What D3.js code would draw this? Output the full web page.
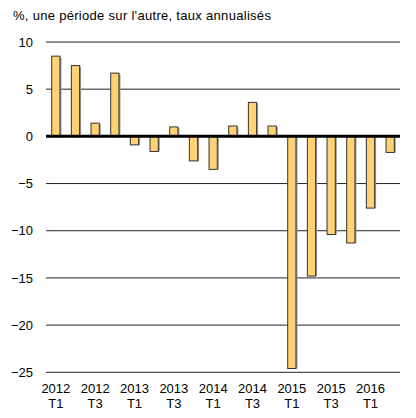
<!DOCTYPE html>
<html>
<head>
<meta charset="utf-8">
<script src="https://cdn.jsdelivr.net/npm/d3@7"></script>
<style>
  body { margin: 0; background: #fff; }
  text { font-family: "Liberation Sans", Arial, sans-serif; fill: #000; }
</style>
</head>
<body>
<div id="chart"></div>
<script>
// quarters, growth %, y ticks
var years = ["2012", "2012", "2012", "2012", "2013", "2013", "2013", "2013",
  "2014", "2014", "2014", "2014", "2015", "2015", "2015", "2015", "2016", "2016"];
var quarters = ["T1", "T2", "T3", "T4", "T1", "T2", "T3", "T4",
  "T1", "T2", "T3", "T4", "T1", "T2", "T3", "T4", "T1", "T2"];
var values = [8.5, 7.5, 1.4, 6.7, -0.9, -1.6, 1.0, -2.6,
  -3.5, 1.1, 3.6, 1.1, -24.6, -14.8, -10.4, -11.3, -7.6, -1.7];
var yTicks = [10, 5, 0, -5, -10, -15, -20, -25];

var svgWidth = 416, svgHeight = 418;
var margin = { top: 42, right: 16, bottom: 45, left: 46 };
var width = svgWidth - margin.left - margin.right;
var height = svgHeight - margin.top - margin.bottom - 0.7;

var svg = d3.select("#chart").append("svg")
  .attr("width", svgWidth)
  .attr("height", svgHeight);

svg.append("text")
  .attr("x", 13)
  .attr("y", 20)
  .attr("font-size", "13px")
  .attr("letter-spacing", "0.3px")
  .text("%, une période sur l'autre, taux annualisés");

var g = svg.append("g")
  .attr("transform", `translate(${margin.left}, ${margin.top})`);

var data = values.map(function (v, i) {
  return { key: years[i] + " " + quarters[i], year: years[i], q: quarters[i], value: v };
});

var x = d3.scaleBand()
  .domain(data.map(d => d.key))
  .range([0, width])
  .paddingInner(0.58)
  .paddingOuter(0.29);

var y = d3.scaleLinear()
  .domain([-25, 10])
  .range([height, 0]);

// gridlines
g.selectAll(".grid")
  .data(yTicks.filter(t => t !== 0))
  .enter()
  .append("line")
  .attr("x1", 0)
  .attr("x2", width)
  .attr("y1", d => y(d))
  .attr("y2", d => y(d))
  .attr("stroke", "#222")
  .attr("stroke-width", 1);

// y axis labels
var leftAxis = d3.axisLeft(y).tickValues(yTicks).tickSize(0).tickPadding(13);
var ya = g.append("g").call(leftAxis);
ya.select(".domain").remove();
ya.selectAll("text")
  .attr("font-size", "13px")
  .style("font-family", "'Liberation Sans', Arial, sans-serif")
  .attr("fill", "#000");

// bar shadows
g.selectAll(".shadow")
  .data(data)
  .enter()
  .append("rect")
  .attr("x", d => x(d.key) + 1.5)
  .attr("y", d => y(Math.max(0, d.value)) + (d.value > 0 ? 1 : 0))
  .attr("width", x.bandwidth())
  .attr("height", d => Math.abs(y(d.value) - y(0)))
  .attr("fill", "#999");

// bars
g.selectAll(".bar")
  .data(data)
  .enter()
  .append("rect")
  .attr("x", d => x(d.key))
  .attr("y", d => y(Math.max(0, d.value)))
  .attr("width", x.bandwidth())
  .attr("height", d => Math.abs(y(d.value) - y(0)))
  .attr("fill", "#FFD273")
  .attr("stroke", "#333")
  .attr("stroke-width", 1);

// zero line
g.append("line")
  .attr("x1", 0)
  .attr("x2", width)
  .attr("y1", y(0))
  .attr("y2", y(0))
  .attr("stroke", "#000")
  .attr("stroke-width", 3);

// x labels, every second quarter
var xl = g.selectAll(".xlab")
  .data(data.filter((d, i) => i % 2 === 0))
  .enter()
  .append("text")
  .attr("text-anchor", "middle")
  .attr("font-size", "13px")
  .attr("transform", d => `translate(${x(d.key) + x.bandwidth() / 2}, ${height + 21})`);
xl.append("tspan").attr("x", 0).attr("y", 0).text(d => d.year);
xl.append("tspan").attr("x", 0).attr("y", 15).text(d => d.q);
</script>
</body>
</html>
